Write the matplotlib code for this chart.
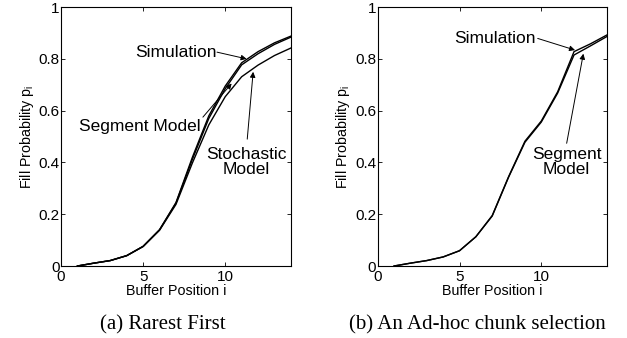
import matplotlib
matplotlib.use("Agg")
import matplotlib.pyplot as plt

plt.rcParams['font.family'] = ['Liberation Sans', 'DejaVu Sans']
plt.rcParams['mathtext.fontset'] = 'custom'
plt.rcParams['mathtext.rm'] = 'Liberation Sans'

x = [1, 2, 3, 4, 5, 6, 7, 8, 9, 10, 11, 12, 13, 14]

# (a) Rarest First
rf_simulation = [0.0, 0.011, 0.021, 0.040, 0.076, 0.140, 0.245, 0.420, 0.580, 0.695, 0.785, 0.828, 0.862, 0.888]
rf_segment    = [0.0, 0.011, 0.021, 0.040, 0.076, 0.140, 0.243, 0.412, 0.570, 0.685, 0.777, 0.820, 0.856, 0.884]
rf_stochastic = [0.0, 0.011, 0.021, 0.040, 0.075, 0.138, 0.238, 0.398, 0.545, 0.654, 0.731, 0.776, 0.813, 0.842]

# (b) An Ad-hoc chunk selection
ah_simulation = [0.0, 0.011, 0.021, 0.035, 0.059, 0.113, 0.195, 0.345, 0.482, 0.560, 0.673, 0.828, 0.858, 0.892]
ah_segment    = [0.0, 0.011, 0.021, 0.035, 0.059, 0.113, 0.193, 0.343, 0.478, 0.556, 0.668, 0.815, 0.850, 0.886]

xticks = [0, 5, 10]
yticks = [0, 0.2, 0.4, 0.6, 0.8, 1]
ytick_labels = ['0', '0.2', '0.4', '0.6', '0.8', '1']

fig = plt.figure(figsize=(6.27, 3.38), dpi=100)
ax1 = fig.add_axes([0.0973, 0.213, 0.3667, 0.766])
ax2 = fig.add_axes([0.6024, 0.213, 0.3653, 0.766])

for ax in (ax1, ax2):
    ax.set_xlim(0, 14)
    ax.set_ylim(0, 1)
    ax.set_xticks(xticks)
    ax.set_xticklabels([str(t) for t in xticks])
    ax.set_yticks(yticks)
    ax.set_yticklabels(ytick_labels)
    ax.tick_params(direction='in', top=True, right=True, labelsize=11, length=3, width=0.6, pad=1)
    ax.tick_params(axis='x', pad=3)
    for s in ax.spines.values():
        s.set_linewidth(0.8)
    ax.set_xlabel('Buffer Position i', fontsize=10.3, labelpad=0)
    ax.set_ylabel(r'Fill Probability p$_\mathregular{i}$', fontsize=10.3, labelpad=2)

ax1.plot(x, rf_simulation, color='k', lw=1.0)
ax1.plot(x, rf_segment, color='k', lw=1.0)
ax1.plot(x, rf_stochastic, color='k', lw=1.0)

ax2.plot(x, ah_simulation, color='k', lw=1.0)
ax2.plot(x, ah_segment, color='k', lw=1.0)

ap = dict(arrowstyle='-|>', color='k', lw=0.7, mutation_scale=8, shrinkA=0, shrinkB=0)
fs = 12.5

# Left panel annotations
ax1.text(9.5, 0.826, 'Simulation', ha='right', va='center', fontsize=fs)
ax1.annotate('', xy=(11.3, 0.80), xytext=(9.5, 0.826), arrowprops=ap)
ax1.text(8.5, 0.54, 'Segment Model', ha='right', va='center', fontsize=fs)
ax1.annotate('', xy=(10.39, 0.705), xytext=(8.64, 0.575), arrowprops=ap)
ax1.text(11.3, 0.40, 'Stochastic\nModel', ha='center', va='center', fontsize=fs, linespacing=1.0)
ax1.annotate('', xy=(11.7, 0.75), xytext=(11.34, 0.49), arrowprops=ap)

# Right panel annotations
ax2.text(7.17, 0.879, 'Simulation', ha='center', va='center', fontsize=fs)
ax2.annotate('', xy=(12.06, 0.834), xytext=(9.78, 0.879), arrowprops=ap)
ax2.text(11.55, 0.40, 'Segment\nModel', ha='center', va='center', fontsize=fs, linespacing=1.0)
ax2.annotate('', xy=(12.57, 0.82), xytext=(11.55, 0.474), arrowprops=ap)

fig.text(162.5 / 627, 1 - 325 / 338, '(a) Rarest First', ha='center', va='center',
         fontsize=15, family='Liberation Serif')
fig.text(477.6 / 627, 1 - 325 / 338, '(b) An Ad-hoc chunk selection', ha='center', va='center',
         fontsize=15, family='Liberation Serif')

fig.savefig('out.png', dpi=100)
